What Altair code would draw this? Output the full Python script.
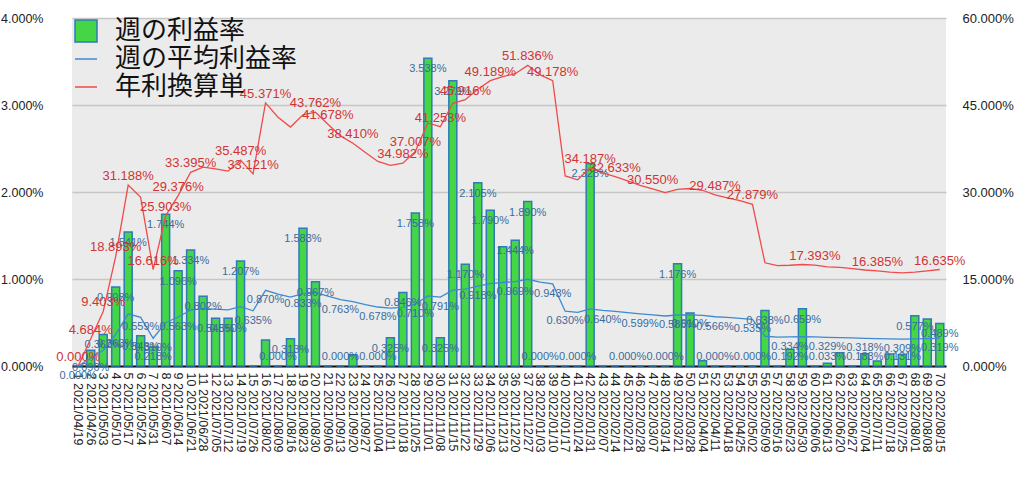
import altair as alt
import pandas as pd

weeks = [
    "1 2021/04/19", "2 2021/04/26", "3 2021/05/03", "4 2021/05/10", "5 2021/05/17",
    "6 2021/05/24", "7 2021/05/31", "8 2021/06/07", "9 2021/06/14", "10 2021/06/21",
    "11 2021/06/28", "12 2021/07/05", "13 2021/07/12", "14 2021/07/19", "15 2021/07/26",
    "16 2021/08/02", "17 2021/08/09", "18 2021/08/16", "19 2021/08/23", "20 2021/08/30",
    "21 2021/09/06", "22 2021/09/13", "23 2021/09/20", "24 2021/09/27", "25 2021/10/04",
    "26 2021/10/11", "27 2021/10/18", "28 2021/10/25", "29 2021/11/01", "30 2021/11/08",
    "31 2021/11/15", "32 2021/11/22", "33 2021/11/29", "34 2021/12/06", "35 2021/12/13",
    "36 2021/12/20", "37 2021/12/27", "38 2022/01/03", "39 2022/01/10", "40 2022/01/17",
    "41 2022/01/24", "42 2022/01/31", "43 2022/02/07", "44 2022/02/14", "45 2022/02/21",
    "46 2022/02/28", "47 2022/03/07", "48 2022/03/14", "49 2022/03/21", "50 2022/03/28",
    "51 2022/04/04", "52 2022/04/11", "53 2022/04/18", "54 2022/04/25", "55 2022/05/02",
    "56 2022/05/09", "57 2022/05/16", "58 2022/05/23", "59 2022/05/30", "60 2022/06/06",
    "61 2022/06/13", "62 2022/06/20", "63 2022/06/27", "64 2022/07/04", "65 2022/07/11",
    "66 2022/07/18", "67 2022/07/25", "68 2022/08/01", "69 2022/08/08", "70 2022/08/15",
]

# weekly return (%)
bar_vals = [
    0.000, 0.180, 0.362, 0.908, 1.541, 0.348, 0.218, 1.744, 1.096, 1.334,
    0.802, 0.548, 0.550, 1.207, 0.000, 0.300, 0.000, 0.313, 1.583, 0.967,
    0.000, 0.000, 0.130, 0.000, 0.000, 0.325, 0.846, 1.758, 3.538, 0.325,
    3.279, 1.170, 2.105, 1.790, 1.372, 1.444, 1.890, 0.000, 0.000, 0.000,
    0.000, 2.328, 0.000, 0.000, 0.000, 0.000, 0.000, 0.000, 1.176, 0.610,
    0.060, 0.000, 0.000, 0.000, 0.000, 0.638, 0.000, 0.192, 0.659, 0.000,
    0.033, 0.153, 0.000, 0.140, 0.057, 0.138, 0.131, 0.577, 0.540, 0.489,
]

# weekly average return (%)
avg_vals = [
    0.000, 0.090, 0.181, 0.363, 0.600, 0.559, 0.319, 0.498, 0.563, 0.642,
    0.660, 0.654, 0.646, 0.682, 0.635, 0.870, 0.825, 0.792, 0.833, 0.842,
    0.802, 0.763, 0.739, 0.706, 0.678, 0.665, 0.673, 0.710, 0.806, 0.791,
    0.871, 0.883, 0.918, 0.946, 0.960, 0.969, 0.997, 0.965, 0.943, 0.630,
    0.617, 0.657, 0.640, 0.628, 0.613, 0.599, 0.588, 0.575, 0.586, 0.588,
    0.583, 0.566, 0.558, 0.548, 0.535, 0.342, 0.333, 0.334, 0.337, 0.334,
    0.329, 0.327, 0.323, 0.318, 0.315, 0.312, 0.309, 0.312, 0.315, 0.319,
]

# annualised (%)
ann_vals = [
    0.000, 4.684, 9.403, 18.893, 31.188, 29.07, 16.616, 25.903, 29.376, 33.395,
    34.30, 34.00, 33.60, 35.487, 33.121, 45.371, 42.90, 41.20, 43.30, 43.762,
    41.678, 39.68, 38.410, 36.80, 35.26, 34.60, 34.982, 37.007, 41.90, 41.253,
    45.30, 45.916, 47.70, 49.189, 49.90, 50.39, 51.836, 50.20, 49.178, 32.76,
    32.10, 34.187, 33.28, 32.633, 31.90, 31.15, 30.550, 29.90, 30.47, 30.60,
    30.30, 29.487, 29.00, 28.50, 27.879, 17.80, 17.30, 17.37, 17.50, 17.393,
    17.10, 17.00, 16.80, 16.55, 16.385, 16.20, 16.07, 16.20, 16.40, 16.635,
]

bar_labels = {
    3: "0.362%", 4: "0.908%", 5: "1.541%", 6: "0.348%", 7: "0.218%", 8: "1.744%",
    9: "1.096%", 10: "1.334%", 11: "0.802%", 12: "0.548%", 13: "0.550%", 14: "1.207%",
    17: "0.000%", 18: "0.313%", 19: "1.583%", 20: "0.967%", 22: "0.000%", 25: "0.000%",
    26: "0.325%", 27: "0.846%", 28: "1.758%", 29: "3.538%", 30: "0.325%", 31: "3.279%",
    32: "1.170%", 33: "2.105%", 34: "1.790%", 36: "1.444%", 37: "1.890%", 38: "0.000%",
    41: "0.000%", 42: "2.328%", 45: "0.000%", 48: "0.000%", 49: "1.176%", 50: "0.610%",
    52: "0.000%", 55: "0.000%", 56: "0.638%", 58: "0.192%", 59: "0.659%", 61: "0.033%",
    64: "0.183%", 67: "0.131%", 68: "0.577%", 70: "0.489%",
}
avg_labels = {
    1: "0.000%", 2: "0.090%", 4: "0.363%", 6: "0.559%", 7: "0.319%", 9: "0.563%",
    15: "0.635%", 16: "0.870%", 19: "0.833%", 22: "0.763%", 25: "0.678%", 28: "0.710%",
    30: "0.791%", 33: "0.918%", 36: "0.969%", 39: "0.943%", 40: "0.630%", 43: "0.640%",
    46: "0.599%", 49: "0.586%", 52: "0.566%", 55: "0.535%", 58: "0.334%", 61: "0.329%",
    64: "0.318%", 67: "0.309%", 70: "0.319%",
}
ann_labels = {
    1: "0.000%", 2: "4.684%", 3: "9.403%", 4: "18.893%", 5: "31.188%", 7: "16.616%",
    8: "25.903%", 9: "29.376%", 10: "33.395%", 14: "35.487%", 15: "33.121%", 16: "45.371%",
    20: "43.762%", 21: "41.678%", 23: "38.410%", 27: "34.982%", 28: "37.007%", 30: "41.253%",
    32: "45.916%", 34: "49.189%", 37: "51.836%", 39: "49.178%", 42: "34.187%", 44: "32.633%",
    47: "30.550%", 52: "29.487%", 55: "27.879%", 60: "17.393%", 65: "16.385%", 70: "16.635%",
}

S1 = "週の利益率"
S2 = "週の平均利益率"
S3 = "年利換算単"

df = pd.DataFrame({
    "week": weeks,
    "bar": bar_vals,
    "avg": avg_vals,
    "ann": ann_vals,
    "bar_lab": [bar_labels.get(i + 1, "") for i in range(len(weeks))],
    "avg_lab": [avg_labels.get(i + 1, "") for i in range(len(weeks))],
    "ann_lab": [ann_labels.get(i + 1, "") for i in range(len(weeks))],
    "s1": S1,
    "s2": S2,
    "s3": S3,
})

NUMFONT = "Liberation Sans"
JPFONT = "Noto Sans CJK JP"
BAR_FILL = "#45d645"
BAR_STROKE = "#2f7ab8"
BLUE_LINE = "#3d8ad0"
BLUE_TEXT = "#3a6b9c"
RED_LINE = "#f04a4a"
RED_TEXT = "#d03434"

x_enc = alt.X(
    "week:N", sort=weeks,
    scale=alt.Scale(paddingInner=0.36, paddingOuter=0.18),
    axis=alt.Axis(title=None, labelAngle=90, labelAlign="left", labelBaseline="middle",
                  labelPadding=6, ticks=False, domain=True, domainColor="#111111",
                  domainWidth=2, labelFontSize=12.5, labelColor="#222222",
                  labelFont=NUMFONT, grid=False, labelOverlap=False),
)

left_scale = alt.Scale(domain=[0, 4], nice=False, zero=True)
right_scale = alt.Scale(domain=[0, 60], nice=False, zero=True)

stroke_scale = alt.Scale(domain=[S2, S3], range=[BLUE_LINE, RED_LINE])

bars = alt.Chart(df).mark_bar(stroke=BAR_STROKE, strokeWidth=1.5).encode(
    x=x_enc,
    y=alt.Y("bar:Q", scale=left_scale,
            axis=alt.Axis(title=None, values=[0, 1, 2, 3, 4], orient="left",
                          labelExpr="format(datum.value, '.3f') + '%'",
                          labelPadding=29, ticks=False, domain=False,
                          grid=True, gridColor="#c6c6c6", gridWidth=1.5,
                          labelFontSize=12.5, labelColor="#222222", labelFont=NUMFONT)),
    fill=alt.Fill("s1:N", scale=alt.Scale(domain=[S1], range=[BAR_FILL]),
                  legend=alt.Legend(title=None, orient="none", legendX=1, legendY=0,
                                    symbolType="square", symbolSize=484,
                                    symbolStrokeColor=BAR_STROKE, symbolStrokeWidth=1.5,
                                    symbolFillColor=BAR_FILL,
                                    labelFontSize=26, labelFont=JPFONT, labelColor="#111111",
                                    labelOffset=16, padding=0, rowPadding=2,
                                    labelLimit=400)),
)

avg_line = alt.Chart(df).mark_line(strokeWidth=1.3).encode(
    x=x_enc,
    y=alt.Y("avg:Q", scale=left_scale),
    stroke=alt.Stroke("s2:N", scale=stroke_scale,
                      legend=alt.Legend(title=None, orient="none", legendX=1, legendY=28,
                                        symbolType="stroke", symbolSize=484,
                                        symbolStrokeWidth=1.5,
                                        labelFontSize=26, labelFont=JPFONT,
                                        labelColor="#111111", labelOffset=16,
                                        padding=0, rowPadding=2, labelLimit=400)),
)

bar_text = alt.Chart(df).transform_filter("datum.bar_lab != ''").transform_calculate(
    ly="max(datum.bar - 0.126, 0.103)"
).mark_text(font=NUMFONT, fontSize=11, color=BLUE_TEXT, baseline="middle").encode(
    x=x_enc,
    y=alt.Y("ly:Q", scale=left_scale),
    text="bar_lab:N",
)

avg_text = alt.Chart(df).transform_filter("datum.avg_lab != ''").mark_text(
    font=NUMFONT, fontSize=11, color=BLUE_TEXT, baseline="middle", dy=10
).encode(
    x=x_enc,
    y=alt.Y("avg:Q", scale=left_scale),
    text="avg_lab:N",
)

left = alt.layer(bars, avg_line, bar_text, avg_text)

ann_line = alt.Chart(df).mark_line(strokeWidth=1.3).encode(
    x=x_enc,
    y=alt.Y("ann:Q", scale=right_scale,
            axis=alt.Axis(title=None, values=[0, 15, 30, 45, 60], orient="right",
                          labelExpr="format(datum.value, '.3f') + '%'",
                          labelPadding=16, ticks=False, domain=False, grid=False,
                          labelFontSize=13, labelColor="#222222", labelFont=NUMFONT)),
    stroke=alt.Stroke("s3:N", scale=stroke_scale),
)

ann_text = alt.Chart(df).transform_filter("datum.ann_lab != ''").mark_text(
    font=NUMFONT, fontSize=13, color=RED_TEXT, baseline="middle", dy=-9
).encode(
    x=x_enc,
    y=alt.Y("ann:Q", scale=right_scale),
    text="ann_lab:N",
)

right = alt.layer(ann_line, ann_text)

chart = alt.layer(left, right).resolve_scale(y="independent").properties(
    width=874, height=348,
    padding={"left": 72, "top": 18, "right": 78, "bottom": 111},
    autosize=alt.AutoSizeParams(type="none"),
    background="white",
).configure_view(fill="#ebebeb", stroke=None)

chart.save("out.html", embed_options={"renderer": "svg", "actions": False})
